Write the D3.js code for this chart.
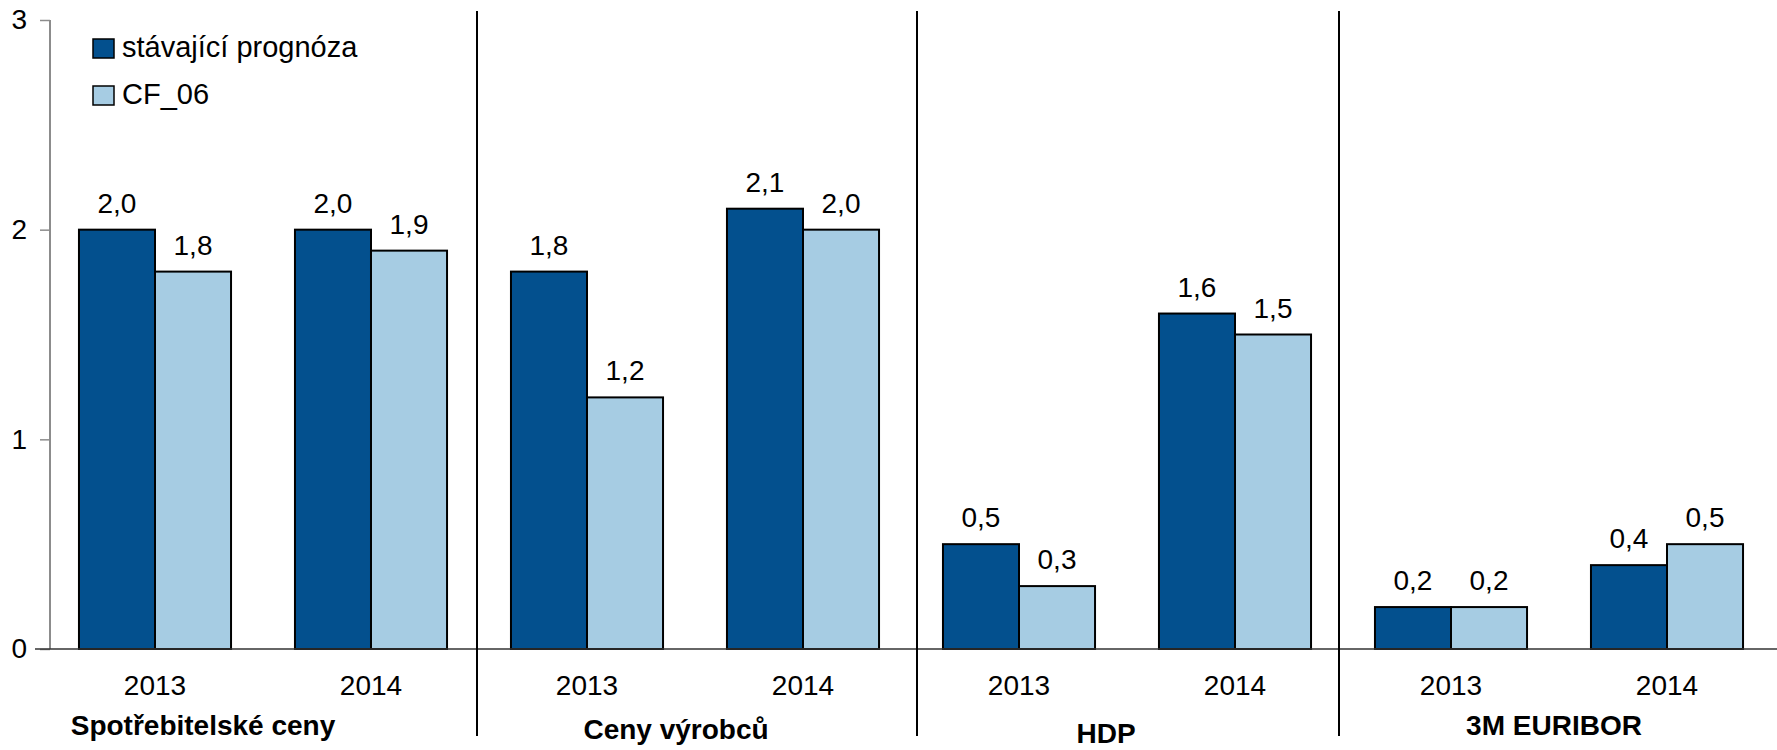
<!DOCTYPE html>
<html>
<head>
<meta charset="utf-8">
<script src="https://cdn.jsdelivr.net/npm/d3@7"></script>
<style>
  body { margin: 0; background: #fff; }
  svg { display: block; font-family: "Liberation Sans", Arial, sans-serif; }
</style>
</head>
<body>
<script>
// data
const groups = ["Spotřebitelské ceny", "Ceny výrobců", "HDP", "3M EURIBOR"];
const years = ["2013", "2014"];
const seriesNames = ["stávající prognóza", "CF_06"];
const current = [2.0, 2.0, 1.8, 2.1, 0.5, 1.6, 0.2, 0.4];
const cf06 = [1.8, 1.9, 1.2, 2.0, 0.3, 1.5, 0.2, 0.5];
const yTicks = [0, 1, 2, 3];

// layout of the group captions (shift from group centre, baseline)
const groupLabelShift = [-60, -19, -21, -5];
const groupLabelY = [735, 739, 743, 735];
// separators sit a bit off the slot boundary in the original
const sepShift = [-2, 6, -4];

const colors = ["#03508e", "#a6cce3"];
const W = 1777, H = 750;

const slots = [];
groups.forEach((g, gi) => years.forEach((y, yi) => slots.push({ key: gi + "_" + yi, group: gi, year: y })));
const rows = slots.map((s, i) => ({ ...s, values: [current[i], cf06[i]] }));

const svg = d3.select("body").append("svg").attr("width", W).attr("height", H);

const x = d3.scaleBand()
  .domain(slots.map((s) => s.key))
  .range([47, 1775])
  .paddingInner(0.296)
  .paddingOuter(0.148);
const xs = d3.scaleBand().domain(seriesNames).range([0, x.bandwidth()]);
const y = d3.scaleLinear().domain([0, 3]).range([649, 20]);

// y axis
const yAxis = svg.append("g")
  .attr("transform", "translate(50,0)")
  .call(d3.axisLeft(y).tickValues(yTicks).tickSize(10).tickPadding(13).tickFormat(d3.format("d")));
yAxis.select(".domain").attr("stroke", "#8c8c8c").attr("stroke-width", 2).attr("d", `M0,${y(3)}V${y(0)}`);
yAxis.selectAll(".tick line").attr("stroke", "#8c8c8c").attr("stroke-width", 1.5);
yAxis.selectAll(".tick text").attr("font-size", 28).attr("fill", "#000").attr("font-family", "Liberation Sans, Arial, sans-serif");

// bars
const slotG = svg.selectAll(".slot").data(rows).join("g")
  .attr("class", "slot")
  .attr("transform", (d) => `translate(${x(d.key)},0)`);

slotG.selectAll("rect").data((d) => d.values.map((v, i) => ({ v, i })))
  .join("rect")
  .attr("x", (d) => xs(seriesNames[d.i]))
  .attr("y", (d) => y(d.v))
  .attr("width", xs.bandwidth())
  .attr("height", (d) => y(0) - y(d.v))
  .attr("fill", (d) => colors[d.i])
  .attr("stroke", "#000")
  .attr("stroke-width", 2);

slotG.selectAll("text.val").data((d) => d.values.map((v, i) => ({ v, i })))
  .join("text")
  .attr("class", "val")
  .attr("x", (d) => xs(seriesNames[d.i]) + xs.bandwidth() / 2)
  .attr("y", (d) => y(d.v) - 17)
  .attr("text-anchor", "middle")
  .attr("font-size", 28)
  .text((d) => d3.format(".1f")(d.v).replace(".", ","));

// zero line
svg.append("line")
  .attr("x1", 35).attr("x2", W)
  .attr("y1", y(0)).attr("y2", y(0))
  .attr("stroke", "#333").attr("stroke-width", 1.5);

// year labels
svg.selectAll(".year").data(rows).join("text")
  .attr("class", "year")
  .attr("x", (d) => x(d.key) + x.bandwidth() / 2)
  .attr("y", 695)
  .attr("text-anchor", "middle")
  .attr("font-size", 28)
  .text((d) => d.year);

// group separators
const step = x.step();
for (let gi = 1; gi < groups.length; gi++) {
  const sx = x(gi + "_0") - (step - x.bandwidth()) / 2 + sepShift[gi - 1];
  svg.append("line")
    .attr("x1", sx).attr("x2", sx)
    .attr("y1", 11).attr("y2", 736)
    .attr("stroke", "#000").attr("stroke-width", 2);
}

// group labels
svg.selectAll(".grp").data(groups).join("text")
  .attr("class", "grp")
  .attr("x", (d, i) => (x(i + "_0") + x(i + "_1") + x.bandwidth()) / 2 + groupLabelShift[i])
  .attr("y", (d, i) => groupLabelY[i])
  .attr("text-anchor", "middle")
  .attr("font-size", 28)
  .attr("font-weight", "bold")
  .text((d) => d);

// legend
const legend = svg.selectAll(".leg").data(seriesNames).join("g")
  .attr("class", "leg")
  .attr("transform", (d, i) => `translate(93,${39 + i * 47})`);
legend.append("rect")
  .attr("width", 21).attr("height", 19)
  .attr("fill", (d, i) => colors[i])
  .attr("stroke", "#000").attr("stroke-width", 1.5);
legend.append("text")
  .attr("x", 29).attr("y", 18)
  .attr("font-size", 29)
  .text((d) => d);
</script>
</body>
</html>
